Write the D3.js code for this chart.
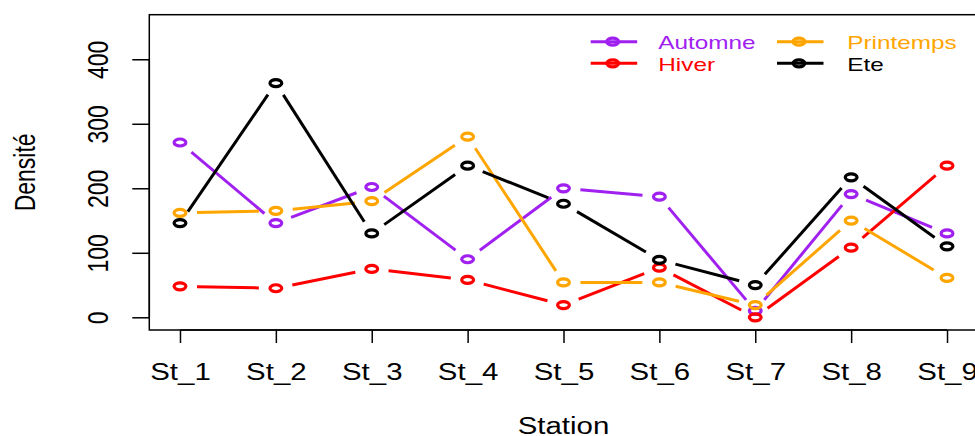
<!DOCTYPE html>
<html>
<head>
<meta charset="utf-8">
<script src="https://cdn.jsdelivr.net/npm/d3@7"></script>
<style>
  html, body { margin: 0; padding: 0; background: #fff; }
  svg { display: block; }
  text { font-family: "Liberation Sans", Arial, sans-serif; }
</style>
</head>
<body>
<svg id="chart" width="975" height="436"></svg>
<script>
const stations = ["St_1","St_2","St_3","St_4","St_5","St_6","St_7","St_8","St_9"];
const automne   = [271, 146, 202, 90, 200, 187, 10, 191, 130];
const hiver     = [48, 45, 75, 58, 19, 77, 0, 108, 235];
const printemps = [162, 165, 180, 280, 54, 54, 19, 150, 61];
const ete       = [146, 363, 130, 235, 176, 89, 50, 217, 110];
const seriesNames  = ["Automne", "Hiver", "Printemps", "Ete"];
const seriesColors = ["#A020F0", "#FF0000", "#FFA500", "#000000"];
const yTicks = [0, 100, 200, 300, 400];

(function () {
const seriesValues = [automne, hiver, printemps, ete];
const SX = 1.28;            // horizontal stretch of the reference rendering
const FS = 23;

const svg = d3.select("#chart");
const pLeft = 149.3, pRight = 977.7, pTop = 14.7, pBottom = 330;

const x = d3.scalePoint().domain(stations).range([pLeft, pRight]).padding(0.32);
const y = d3.scaleLinear().domain([-19.7, 469.1]).range([pBottom, pTop]);

// frame
svg.append("rect").attr("x", pLeft).attr("y", pTop)
  .attr("width", pRight - pLeft).attr("height", pBottom - pTop)
  .attr("fill", "none").attr("stroke", "#000").attr("stroke-width", 1.5);

// y axis
const yAxis = svg.append("g").attr("transform", `translate(${pLeft},0)`)
  .call(d3.axisLeft(y).tickValues(yTicks).tickSize(17).tickPadding(0));
yAxis.select(".domain").remove();
yAxis.selectAll(".tick line").attr("stroke", "#000").attr("stroke-width", 1.5);
yAxis.selectAll(".tick text").attr("x", null).attr("dy", null)
  .attr("fill", "#000").style("font-size", FS + "px")
  .attr("text-anchor", "middle")
  .attr("transform", `translate(-41,0) scale(${SX},1) rotate(-90)`);
yAxis.append("line").attr("x1", 0).attr("x2", 0)
  .attr("y1", y(yTicks[0])).attr("y2", y(yTicks[yTicks.length - 1]))
  .attr("stroke", "#000").attr("stroke-width", 1.5);

// x axis
const xAxis = svg.append("g").attr("transform", `translate(0,${pBottom})`)
  .call(d3.axisBottom(x).tickSize(13).tickPadding(0));
xAxis.select(".domain").remove();
xAxis.selectAll(".tick line").attr("stroke", "#000").attr("stroke-width", 1.5);
xAxis.selectAll(".tick text").attr("y", null).attr("dy", null)
  .attr("fill", "#000").style("font-size", FS + "px")
  .attr("text-anchor", "middle")
  .attr("transform", `translate(0,50) scale(${SX},1)`);
xAxis.append("line").attr("x1", x(stations[0])).attr("x2", x(stations[stations.length - 1]))
  .attr("y1", 0).attr("y2", 0).attr("stroke", "#000").attr("stroke-width", 1.5);

// axis titles
svg.append("text").text("Station")
  .attr("text-anchor", "middle").style("font-size", FS + "px")
  .attr("transform", `translate(${(pLeft + pRight) / 2},434) scale(${SX},1)`);
svg.append("text").text("Densité")
  .attr("text-anchor", "middle").style("font-size", FS + "px")
  .attr("transform", `translate(35,${(pTop + pBottom) / 2}) scale(${SX},1) rotate(-90)`);

// series (type = "b": points with gapped segments)
const gx = 17, gy = 13, RX = 5.9, RY = 3.5;
const plot = svg.append("g");
seriesValues.forEach((vals, si) => {
  const col = seriesColors[si];
  const pts = vals.map((v, i) => [x(stations[i]), y(v)]);
  const g = plot.append("g");
  for (let i = 0; i < pts.length - 1; i++) {
    const [x1, y1] = pts[i], [x2, y2] = pts[i + 1];
    const dx = x2 - x1, dy = y2 - y1;
    const t = 1 / Math.sqrt((dx / gx) ** 2 + (dy / gy) ** 2);
    if (t >= 0.5) continue;
    g.append("line")
      .attr("x1", x1 + t * dx).attr("y1", y1 + t * dy)
      .attr("x2", x2 - t * dx).attr("y2", y2 - t * dy)
      .attr("stroke", col).attr("stroke-width", 3);
  }
  g.selectAll("ellipse").data(pts).join("ellipse")
    .attr("cx", d => d[0]).attr("cy", d => d[1])
    .attr("rx", RX).attr("ry", RY)
    .attr("fill", "none").attr("stroke", col).attr("stroke-width", 3.2);
});

// legend
const legX = [590.7, 777], legY = [41.7, 63.3], legTextX = [658.3, 847.3];
seriesNames.forEach((name, si) => {
  const c = Math.floor(si / 2), r = si % 2;
  const col = seriesColors[si];
  const g = svg.append("g");
  g.append("line").attr("x1", legX[c]).attr("x2", legX[c] + 46.5)
    .attr("y1", legY[r]).attr("y2", legY[r]).attr("stroke", col).attr("stroke-width", 3);
  g.append("ellipse").attr("cx", legX[c] + 22).attr("cy", legY[r])
    .attr("rx", RX).attr("ry", RY).attr("fill", "none")
    .attr("stroke", col).attr("stroke-width", 3.2);
  g.append("text").text(name).attr("fill", col)
    .style("font-size", "19px")
    .attr("transform", `translate(${legTextX[c]},${legY[r] + 7.6}) scale(${SX},1)`);
});
})();
</script>
</body>
</html>
